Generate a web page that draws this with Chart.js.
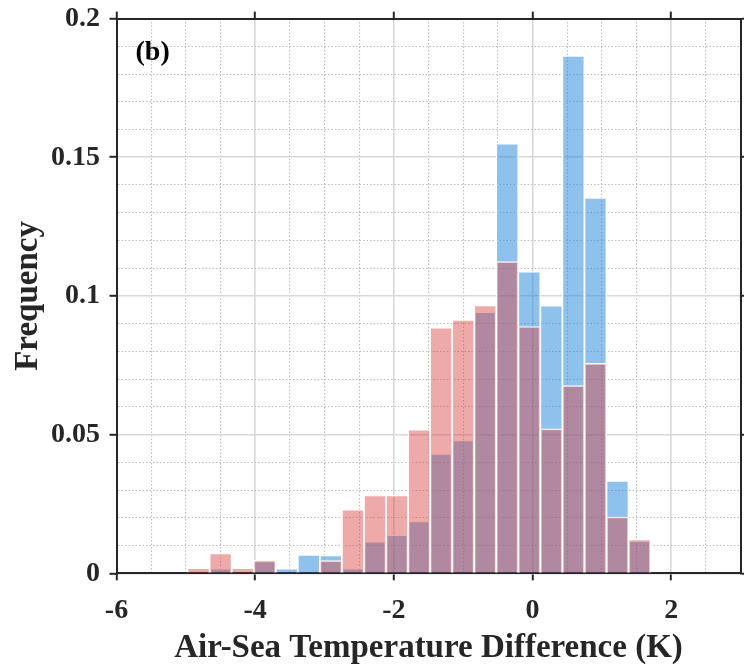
<!DOCTYPE html>
<html>
<head>
<meta charset="utf-8">
<script src="https://cdn.jsdelivr.net/npm/chart.js@4.4.0/dist/chart.umd.min.js"></script>
<style>
    html, body { margin: 0; padding: 0; background: #fff; }
    #wrap { width: 744px; height: 664px; }
</style>
</head>
<body>
<div id="wrap"><canvas id="hist" width="744" height="664"></canvas></div>
<script>
// histogram bin centres (K)
const binCenters = [-4.816, -4.498, -4.180, -3.862, -3.544, -3.226, -2.908, -2.590, -2.272, -1.954,
    -1.636, -1.318, -1.000, -0.682, -0.364, -0.046, 0.272, 0.590, 0.908, 1.226, 1.544];

// blue series
const blueFreq = [0, 0.0017, 0, 0.0043, 0.0017, 0.0066, 0.0065, 0.0017, 0.0114, 0.0138,
    0.0187, 0.0431, 0.0479, 0.0942, 0.1549, 0.1088, 0.0965, 0.1866, 0.1354, 0.0333, 0.0116];

// red series
const redFreq = [0.0019, 0.0072, 0.0019, 0.0047, 0, 0, 0.0046, 0.0230, 0.0281, 0.0281,
    0.0518, 0.0886, 0.0914, 0.0966, 0.1124, 0.0890, 0.0521, 0.0677, 0.0757, 0.0203, 0.0122];

// labelled ticks
const xTickLabels = [-6, -4, -2, 0, 2];
const yTickLabels = [0, 0.05, 0.1, 0.15, 0.2];

const FONT = '"Liberation Serif", "Times New Roman", serif';
const AXIS = "#262626";

const isMajor = (list, v) => list.some(t => Math.abs(t - v) < 1e-6);
const isMajorX = ctx => ctx.tick ? isMajor(xTickLabels, ctx.tick.value) : true;
const isMajorY = ctx => ctx.tick ? isMajor(yTickLabels, ctx.tick.value) : true;

// grid look: solid light lines on labelled ticks, dotted ones in between
function gridFor(majorFn, onChart) {
    return {
        offset: false,
        drawOnChartArea: onChart,
        color: ctx => majorFn(ctx) ? "#d8d8d8" : "#bcbcbc",
        lineWidth: ctx => majorFn(ctx) ? 1.6 : 1.1,
        tickLength: 7,
        tickWidth: 2,
        tickColor: ctx => majorFn(ctx) ? AXIS : "rgba(0,0,0,0)"
    };
}
function borderFor(majorFn) {
    return {
        display: true,
        color: AXIS,
        width: 2,
        dash: ctx => majorFn(ctx) ? [] : [1.5, 2]
    };
}

// fix the box sizes so the plot area sits where the original one does
function fixSize(key, size) {
    return s => {
        s[key] = size;
        s.paddingTop = 0;
        s.paddingBottom = 0;
        s.paddingLeft = 0;
        s.paddingRight = 0;
    };
}

// "(b)" panel tag
const panelLabel = {
    id: "panelLabel",
    afterDraw(chart) {
        const { ctx, chartArea } = chart;
        ctx.save();
        ctx.font = "bold 28px " + FONT;
        ctx.fillStyle = "#000";
        ctx.textBaseline = "alphabetic";
        ctx.fillText("(b)", chartArea.left + 19, chartArea.top + 41);
        ctx.restore();
    }
};

new Chart(document.getElementById("hist"), {
    type: "bar",
    data: {
        datasets: [
            {
                // red drawn on top of blue (dataset 0 is painted last)
                label: "red",
                data: binCenters.map((x, i) => ({ x: x, y: redFreq[i] })),
                backgroundColor: "rgba(217, 66, 64, 0.45)",
                borderColor: "rgba(255, 255, 255, 0.95)",
                borderWidth: 1.2
            },
            {
                label: "blue",
                data: binCenters.map((x, i) => ({ x: x, y: blueFreq[i] })),
                backgroundColor: "rgba(29, 131, 217, 0.5)",
                borderColor: "rgba(255, 255, 255, 0.95)",
                borderWidth: 1.2
            }
        ]
    },
    options: {
        responsive: false,
        animation: false,
        devicePixelRatio: 1,
        grouped: false,
        barPercentage: 1,
        categoryPercentage: 1,
        layout: { padding: 0 },
        plugins: {
            legend: { display: false },
            tooltip: { enabled: false }
        },
        scales: {
            x: {
                type: "linear",
                position: "bottom",
                offset: false,
                min: -6,
                max: 3,
                grid: gridFor(isMajorX, true),
                border: borderFor(isMajorX),
                ticks: {
                    stepSize: 0.5,
                    autoSkip: false,
                    maxRotation: 0,
                    padding: 14,
                    color: AXIS,
                    font: { family: FONT, size: 28, weight: "bold" },
                    callback: v => isMajor(xTickLabels, v) ? String(Math.round(v)) : ""
                },
                title: {
                    display: true,
                    text: "Air-Sea Temperature Difference (K)",
                    color: AXIS,
                    font: { family: FONT, size: 33, weight: "bold", lineHeight: 0.92 },
                    padding: { top: 0, bottom: 0 }
                },
                afterFit: fixSize("height", 90.7)
            },
            x2: {
                type: "linear",
                axis: "x",
                position: "top",
                offset: false,
                min: -6,
                max: 3,
                grid: gridFor(isMajorX, false),
                border: { display: true, color: AXIS, width: 2 },
                ticks: { stepSize: 0.5, autoSkip: false, display: false },
                afterFit: fixSize("height", 18.6)
            },
            y: {
                type: "linear",
                position: "left",
                min: 0,
                max: 0.2,
                grid: gridFor(isMajorY, true),
                border: borderFor(isMajorY),
                ticks: {
                    stepSize: 0.01,
                    autoSkip: false,
                    padding: 9.5,
                    color: AXIS,
                    font: { family: FONT, size: 28, weight: "bold" },
                    callback: v => isMajor(yTickLabels, v) ? String(Math.round(v * 100) / 100) : ""
                },
                title: {
                    display: true,
                    text: "Frequency",
                    color: AXIS,
                    font: { family: FONT, size: 33, weight: "bold", lineHeight: 1 },
                    padding: { top: 12, bottom: 0 }
                },
                afterFit: fixSize("width", 116.5)
            },
            y2: {
                type: "linear",
                axis: "y",
                position: "right",
                min: 0,
                max: 0.2,
                grid: gridFor(isMajorY, false),
                border: { display: true, color: AXIS, width: 2 },
                ticks: { stepSize: 0.01, autoSkip: false, display: false },
                afterFit: fixSize("width", 3.5)
            }
        }
    },
    plugins: [panelLabel]
});
</script>
</body>
</html>
